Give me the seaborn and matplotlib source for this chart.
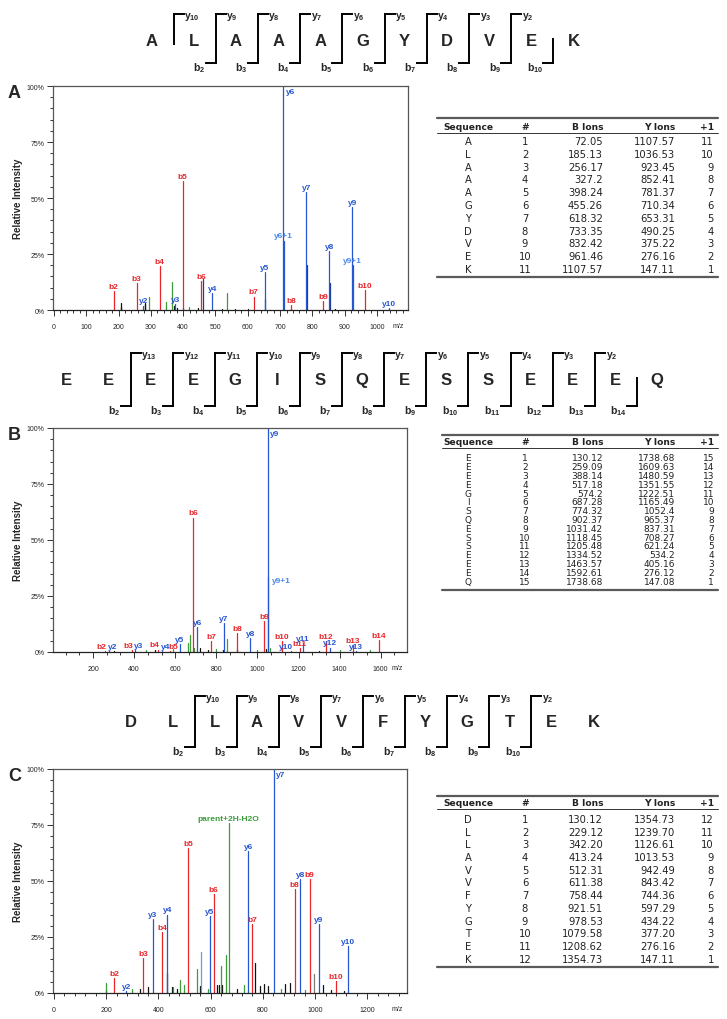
import matplotlib
matplotlib.use("Agg")
import matplotlib.pyplot as plt
from matplotlib.ticker import MultipleLocator, AutoMinorLocator, FuncFormatter
import numpy as np
import pandas as pd
import seaborn as sns

W, H = 727, 1020

# ---------------- peptide sequences / fragment breaks ----------------
seq_a = "ALAAAGYDVEK"
seq_b = "EEEEGISQESSEEEQ"
seq_c = "DLLAVVFYGTEK"
b_breaks_a, y_breaks_a = [2, 3, 4, 5, 6, 7, 8, 9, 10], [1, 2, 3, 4, 5, 6, 7, 8, 9]
b_breaks_b, y_breaks_b = [2, 3, 4, 5, 6, 7, 8, 9, 10, 11, 12, 13, 14], [2, 3, 4, 5, 6, 7, 8, 9, 10, 11, 12, 13]
b_breaks_c, y_breaks_c = [2, 3, 4, 5, 6, 7, 8, 9, 10], [2, 3, 4, 5, 6, 7, 8, 9, 10]

# ---------------- ion tables ----------------
tab_a_b = ["72.05", "185.13", "256.17", "327.2", "398.24", "455.26", "618.32", "733.35", "832.42", "961.46", "1107.57"]
tab_a_y = ["1107.57", "1036.53", "923.45", "852.41", "781.37", "710.34", "653.31", "490.25", "375.22", "276.16", "147.11"]
tab_b_b = ["130.12", "259.09", "388.14", "517.18", "574.2", "687.28", "774.32", "902.37", "1031.42", "1118.45",
           "1205.48", "1334.52", "1463.57", "1592.61", "1738.68"]
tab_b_y = ["1738.68", "1609.63", "1480.59", "1351.55", "1222.51", "1165.49", "1052.4", "965.37", "837.31", "708.27",
           "621.24", "534.2", "405.16", "276.12", "147.08"]
tab_c_b = ["130.12", "229.12", "342.20", "413.24", "512.31", "611.38", "758.44", "921.51", "978.53", "1079.58",
           "1208.62", "1354.73"]
tab_c_y = ["1354.73", "1239.70", "1126.61", "1013.53", "942.49", "843.42", "744.36", "597.29", "434.22", "377.20",
           "276.16", "147.11"]

# ---------------- spectra (m/z, relative intensity %, ion kind, label) ----------------
mz_a = [185.13, 256.17, 327.2, 398.24, 455.26, 618.32, 733.35, 832.42, 961.46,
        276.16, 375.22, 490.25, 653.31, 710.34, 711.34, 781.37, 852.41, 923.45, 924.45, 1036.53,
        462, 654.3, 782.4, 853.4,
        294, 348, 364, 419, 537,
        206, 209, 281, 283, 372, 380, 400, 445, 520, 560, 600, 735, 870]
int_a = [8.5, 12, 19.8, 57.5, 13, 6, 2.2, 4, 9,
         2, 2.5, 7.5, 17, 100, 31, 52.5, 26.5, 46, 20, 0.8,
         14, 5, 20, 12,
         6, 3.5, 12.5, 1.5, 7.5,
         3, 1.5, 2.5, 3, 2, 1, 0.8, 0.8, 0.6, 0.6, 0.5, 0.6, 0.5]
kind_a = ["b"] * 9 + ["y", "y", "y", "y", "y", "yi", "y", "y", "y", "yi", "y"] + ["yd"] * 4 + ["g"] * 5 + ["k"] * 13
lab_a = ["b2", "b3", "b4", "b5", "b6", "b7", "b8", "b9", "b10",
         "y2", "y3", "y4", "y5", "y6", "y6+1", "y7", "y8", "y9", "y9+1", "y10"] + [""] * 22

mz_b = [259.09, 388.14, 517.18, 574.2, 687.28, 774.32, 902.37, 1031.42, 1118.45, 1205.48, 1334.52, 1463.57, 1592.61,
        276.12, 405.16, 534.2, 621.24, 708.27, 837.31, 965.37, 1052.4, 1053.4, 1165.49, 1222.51, 1351.55, 1480.59,
        460, 590, 660, 672, 690, 800, 850, 1000, 1060, 1400, 1550,
        300, 500, 720, 760, 830, 900, 1040, 1300]
int_b = [0.5, 0.7, 1.1, 0.3, 60, 4.7, 8.4, 13.8, 4.7, 1.7, 4.7, 3, 5.4,
         0.5, 1, 0.3, 3.6, 11.1, 13, 6.2, 100, 33.6, 0.5, 4, 2, 0.3,
         0.8, 1.5, 4, 7.5, 2, 1.5, 5.8, 1, 2, 0.8, 1,
         0.5, 1, 2, 1, 1, 1.5, 1.2, 0.6]
kind_b = ["b"] * 13 + ["y"] * 8 + ["yi"] + ["y"] * 4 + ["g"] * 11 + ["k"] * 8
lab_b = ["b2", "b3", "b4", "b5", "b6", "b7", "b8", "b9", "b10", "b11", "b12", "b13", "b14",
         "y2", "y3", "y4", "y5", "y6", "y7", "y8", "y9", "y9+1", "y10", "y11", "y12", "y13"] + [""] * 19

mz_c = [229.12, 342.20, 413.24, 512.31, 611.38, 758.44, 921.51, 978.53, 1079.58,
        276.16, 377.20, 434.22, 597.29, 744.36, 843.42, 942.49, 1013.53, 1126.61,
        669.3,
        563,
        199, 300, 455, 483, 497, 547, 590, 638, 660, 729, 870, 960,
        200, 330, 360, 432, 452, 470, 560, 625, 633, 645, 700, 770, 790, 805, 820, 885, 903, 1030, 1060, 1110,
        997]
int_c = [6.5, 15.5, 27.4, 64.6, 44, 30.8, 46.4, 51, 5.5,
         1, 33, 35, 34.5, 63.5, 100, 51, 30.8, 21,
         76,
         18.5,
         4.5, 2, 2.5, 5.6, 3.5, 10.5, 2, 12, 17, 3.5, 2, 1.5,
         1.5, 2, 2.5, 9, 2.5, 2, 3, 3.5, 3.5, 3.5, 2, 13.5, 3, 4, 3, 4, 4.5, 3.5, 1.5, 1,
         8.5]
kind_c = ["b"] * 9 + ["y"] * 9 + ["g"] + ["yl"] + ["g"] * 12 + ["k"] * 20 + ["gr"]
lab_c = ["b2", "b3", "b4", "b5", "b6", "b7", "b8", "b9", "b10",
         "y2", "y3", "y4", "y5", "y6", "y7", "y8", "y9", "y10",
         "parent+2H-H2O"] + [""] * 34

stick_colors = {"b": "#e8262a", "y": "#2656d0", "yi": "#2656d0", "yd": "#1d3c99", "yl": "#6b9be8",
                "g": "#3c9c3c", "k": "#111111", "gr": "#7a7a7a"}
label_colors = {"b": "#e8262a", "y": "#2656d0", "yi": "#4a86e8", "g": "#3c9c3c"}
draw_order = ["k", "gr", "g", "yl", "yd", "yi", "b", "y"]

# label placement tweaks (where labels crowd each other)
place_a = {"y6": "inside"}
place_b = {"y9": "inside", "y9+1": "right", "b2": "left", "y2": "shift", "b3": "left", "y3": "shift",
           "b4": "left", "y4": "shift", "b5": "shift", "y10": "farleft"}
place_c = {"y7": "inside"}

sns.set_style("ticks")
plt.rcParams["font.family"] = ["Liberation Sans", "DejaVu Sans"]
plt.rcParams["mathtext.fontset"] = "custom"
plt.rcParams["mathtext.rm"] = "Liberation Sans"
plt.rcParams["mathtext.bf"] = "Liberation Sans:bold"
plt.rcParams["mathtext.it"] = "Liberation Sans:italic"

fig = plt.figure(figsize=(W / 100, H / 100), dpi=100)


def px_box(l, t, r, b):
    return [l / W, 1 - b / H, (r - l) / W, (b - t) / H]


ov = fig.add_axes([0, 0, 1, 1])
ov.set_xlim(0, W)
ov.set_ylim(H, 0)
ov.axis("off")


def draw_header(seq, x0, step, y_top, y_mid, y_bot, b_breaks, y_breaks):
    n = len(seq)
    for i, ch in enumerate(seq):
        ov.text(x0 + i * step, y_mid, ch, ha="center", va="center", fontsize=12, fontweight="bold")
    arm = 10
    line_kw = dict(color="black", lw=1.4, solid_capstyle="projecting", solid_joinstyle="miter")
    for k in sorted(set(b_breaks) | set(y_breaks)):
        xv = x0 + (k - 0.5) * step + 1
        has_b, has_y = k in b_breaks, k in y_breaks
        top = y_top if has_y else y_mid - 2
        bot = y_bot if has_b else y_mid + 3
        ov.plot([xv, xv], [top, bot], **line_kw)
        if has_y:
            ov.plot([xv, xv + arm], [y_top, y_top], **line_kw)
            ov.text(xv + arm + 0.5, y_top + 2, r"$\mathbf{y_{%d}}$" % (n - k), ha="left", va="center",
                    fontsize=7.5)
        if has_b:
            ov.plot([xv - arm, xv], [y_bot, y_bot], **line_kw)
            ov.text(xv - arm - 0.5, y_bot + 4, r"$\mathbf{b_{%d}}$" % k, ha="right", va="center",
                    fontsize=7.5)


def draw_table(seq, b_vals, y_vals, left, top_line, head_y, head_line, row0, row_step, bottom_line, fs):
    right = 718
    ov.plot([left, right], [top_line, top_line], color="#5a5a5a", lw=1.6)
    ov.plot([left, right], [head_line, head_line], color="#333333", lw=0.7)
    ov.plot([left, right], [bottom_line, bottom_line], color="#5a5a5a", lw=1.6)
    tkw = dict(fontsize=6.6, family=["DejaVu Sans"], va="center", color="#222222")
    ov.text(468, head_y, "Sequence", ha="center", fontweight="bold", **tkw)
    ov.text(525, head_y, "#", ha="center", fontweight="bold", **tkw)
    ov.text(603, head_y, "B Ions", ha="right", fontweight="bold", **tkw)
    ov.text(675, head_y, "Y Ions", ha="right", fontweight="bold", **tkw)
    ov.text(714, head_y, "+1", ha="right", fontweight="bold", **tkw)
    n = len(seq)
    dkw = dict(tkw, fontsize=fs)
    for i in range(n):
        yy = row0 + i * row_step
        ov.text(468, yy, seq[i], ha="center", **dkw)
        ov.text(525, yy, str(i + 1), ha="center", **dkw)
        ov.text(603, yy, b_vals[i], ha="right", **dkw)
        ov.text(675, yy, y_vals[i], ha="right", **dkw)
        ov.text(714, yy, str(n - i), ha="right", **dkw)


def draw_spectrum(box, mz, inten, kind, label, xlim, major, minor_n, special, letter):
    ax = fig.add_axes(px_box(*box))
    df = pd.DataFrame({"mz": mz, "inten": inten, "kind": kind, "label": label})
    df["peak"] = np.arange(len(df))
    sticks = pd.concat([df.assign(inten=0.0), df]).sort_values("peak", kind="stable")
    order = [k for k in draw_order if k in set(kind)]
    sns.lineplot(data=sticks, x="mz", y="inten", hue="kind", hue_order=order, units="peak",
                 estimator=None, sort=False, palette=stick_colors, legend=False, linewidth=0.9, ax=ax)
    shifts = {"left": -2.6, "shift": 2.6, "farleft": -4.0, "above": 0}
    for m, v, k, t in zip(mz, inten, kind, label):
        if not t:
            continue
        c = label_colors.get(k, "#2656d0")
        place = special.get(t, "above")
        kw = dict(xy=(m, v), textcoords="offset points", color=c, fontsize=6, fontweight="bold",
                  annotation_clip=False)
        if place == "inside":
            ax.annotate(t, xytext=(1.5, -1.5), ha="left", va="top", **kw)
        elif place == "right":
            ax.annotate(t, xytext=(2.5, -0.5), ha="left", va="top", **kw)
        else:
            ax.annotate(t, xytext=(shifts[place], 0.8), ha="center", va="bottom", **kw)
    ax.set_xlim(*xlim)
    ax.set_ylim(0, 100)
    ax.xaxis.set_major_locator(MultipleLocator(major))
    ax.xaxis.set_minor_locator(AutoMinorLocator(minor_n))
    ax.yaxis.set_major_locator(MultipleLocator(25))
    ax.yaxis.set_minor_locator(MultipleLocator(5))
    ax.yaxis.set_major_formatter(FuncFormatter(lambda v, p: f"{v:.0f}%"))
    ax.tick_params(axis="both", which="both", labelsize=5, width=0.7, color="#333333")
    ax.tick_params(axis="x", which="major", length=4.5, pad=5)
    ax.tick_params(axis="x", which="minor", length=2.4)
    ax.tick_params(axis="y", which="major", length=4, pad=2)
    ax.tick_params(axis="y", which="minor", length=2.4)
    for s in ax.spines.values():
        s.set_color("#555555")
        s.set_linewidth(0.9)
    ax.spines["bottom"].set_color("#222222")
    ax.set_xlabel("")
    ax.set_ylabel("Relative Intensity", fontsize=7, fontweight="bold")
    ax.yaxis.set_label_coords(-0.085, 0.5)
    ax.annotate("m/z", xy=(0.972, 0), xycoords="axes fraction", xytext=(0, -11.5),
                textcoords="offset points", ha="center", va="center", fontsize=5)
    ax.annotate(letter, xy=(0, 1), xycoords="axes fraction", xytext=(-32.5, -4.5), textcoords="offset points",
                ha="left", va="center", fontsize=13, fontweight="bold")
    return ax


# panel A
draw_header(seq_a, 151.5, 42.2, 15, 42, 64, b_breaks_a, y_breaks_a)
draw_spectrum((53, 87, 408, 311), mz_a, int_a, kind_a, lab_a, (-3, 1096), 100, 5, place_a, "A")
draw_table(seq_a, tab_a_b, tab_a_y, 437, 119, 127, 134, 142, 12.8, 278, 7.2)

# panel B
draw_header(seq_b, 66.5, 42.2, 354, 381, 407, b_breaks_b, y_breaks_b)
draw_spectrum((53, 429, 407, 653), mz_b, int_b, kind_b, lab_b, (5, 1728), 200, 3, place_b, "B")
draw_table(seq_b, tab_b_b, tab_b_y, 442, 436, 443, 449, 459, 8.8, 591, 6.5)

# panel C
draw_header(seq_c, 130.5, 42.1, 697, 723, 748, b_breaks_c, y_breaks_c)
draw_spectrum((53, 770, 407, 994), mz_c, int_c, kind_c, lab_c, (-4, 1352), 200, 5, place_c, "C")
draw_table(seq_c, tab_c_b, tab_c_y, 437, 797, 804, 810, 820, 12.7, 968, 7.2)

fig.savefig("out.png", dpi=100)
